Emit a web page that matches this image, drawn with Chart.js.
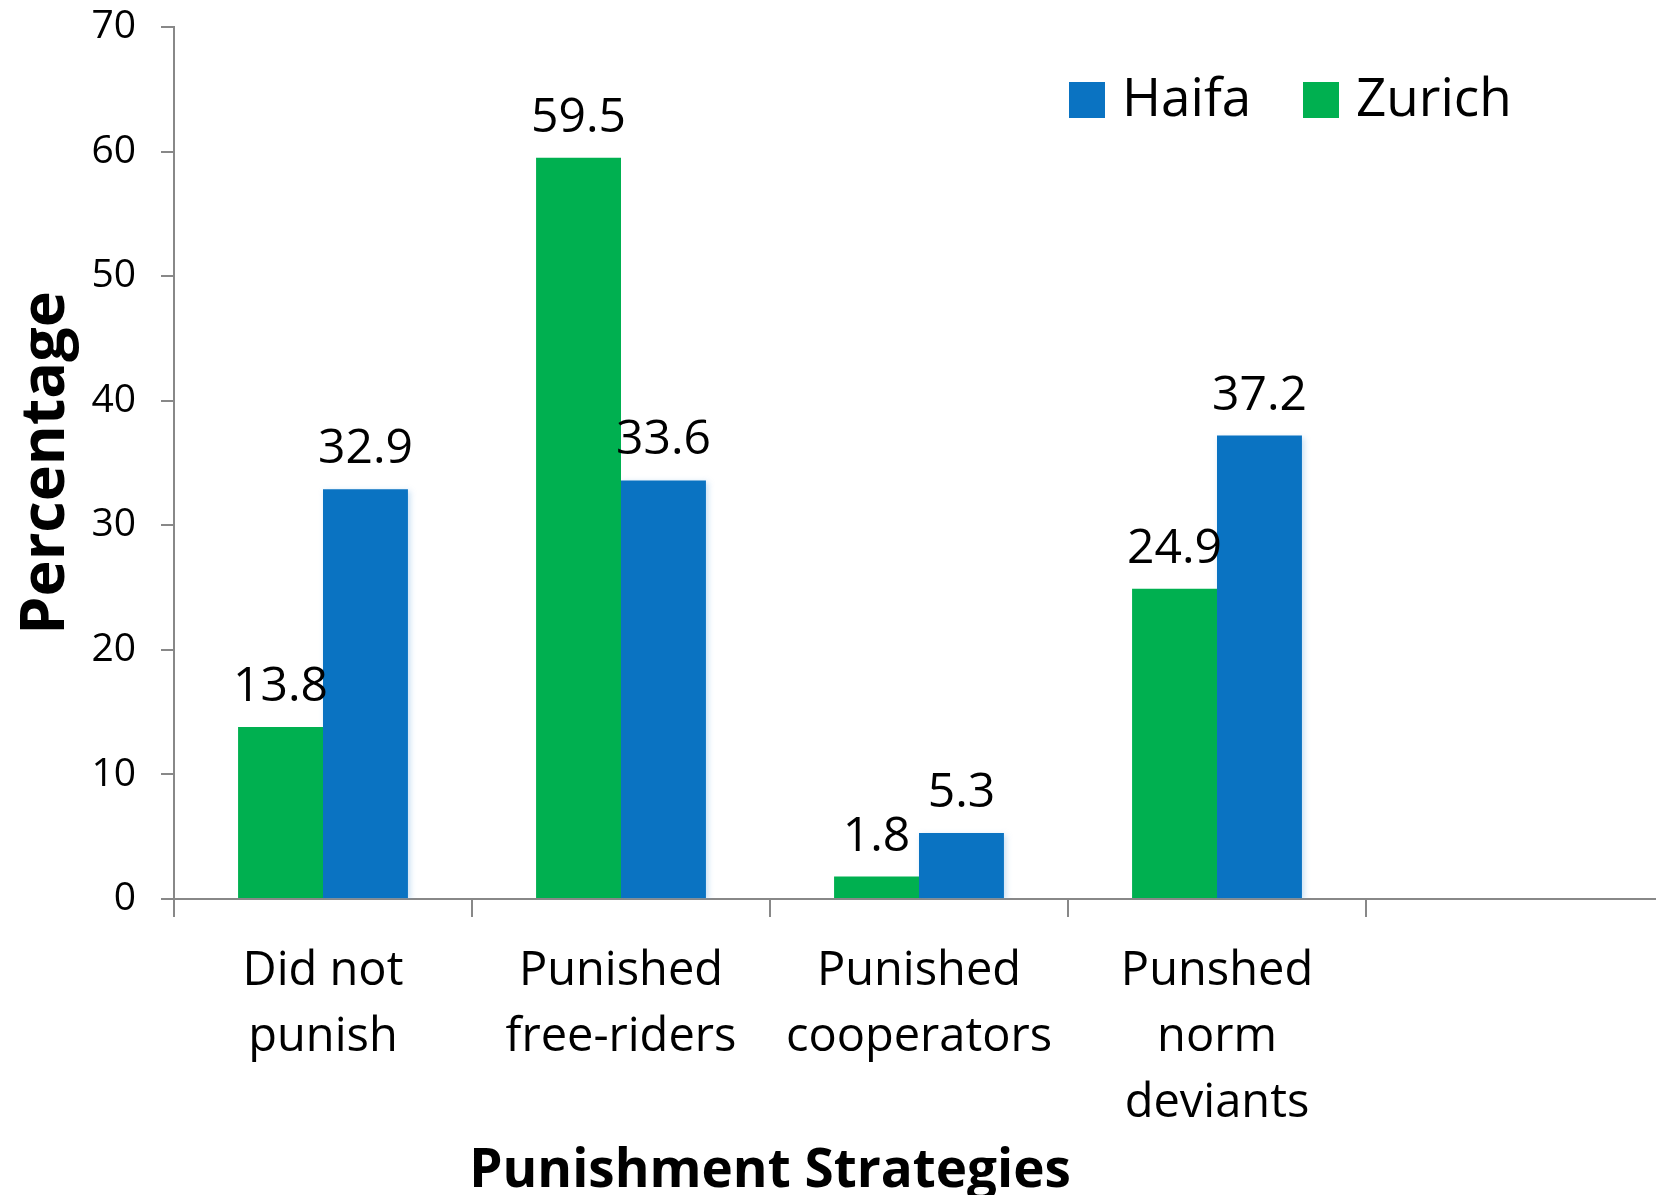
<!DOCTYPE html>
<html>
<head>
  <title>Punishment Strategies</title>
  <script src="https://cdn.jsdelivr.net/npm/chart.js"></script>
  <style>
    body {
      margin: 0;
      background: #fff;
      overflow: hidden;
    }
    #wrap {
      width: 1670px;
      height: 1195px;
      position: relative;
    }
  </style>
</head>
<body>
  <div id="wrap">
    <canvas id="chart"></canvas>
  </div>

  <script>
    // categories (last slot is empty, as in the original axis)
    const categories = [
      ['Did not', 'punish'],
      ['Punished', 'free-riders'],
      ['Punished', 'cooperators'],
      ['Punshed', 'norm', 'deviants'],
      ''
    ];
    const zurichValues = [13.8, 59.5, 1.8, 24.9, null];
    const haifaValues  = [32.9, 33.6, 5.3, 37.2, null];
    const yTicks = [0, 10, 20, 30, 40, 50, 60, 70];

    const GREEN = '#00b050';
    const BLUE  = '#0a73c2';
    const AXIS  = '#888888';
    const FONT  = '"Open Sans", "Noto Sans", sans-serif';

    // value labels above each bar
    const valueLabels = {
      id: 'valueLabels',
      afterDatasetsDraw(chart) {
        const ctx = chart.ctx;
        ctx.save();
        ctx.font = '48px ' + FONT;
        ctx.fillStyle = '#000';
        ctx.textAlign = 'center';
        ctx.textBaseline = 'alphabetic';
        chart.data.datasets.forEach((ds, i) => {
          chart.getDatasetMeta(i).data.forEach((bar, j) => {
            if (ds.data[j] == null) return;
            ctx.fillText(ds.data[j].toFixed(1), bar.x, bar.y - 26);
          });
        });
        ctx.restore();
      }
    };

    // axis titles and the legend box (Haifa first, Zurich second)
    const decorations = {
      id: 'decorations',
      afterDraw(chart) {
        const ctx = chart.ctx;
        const area = chart.chartArea;
        const x = chart.scales.x;
        ctx.save();
        ctx.fillStyle = '#000';

        // y title
        ctx.font = 'bold 61px ' + FONT;
        ctx.textAlign = 'center';
        ctx.textBaseline = 'alphabetic';
        ctx.translate(64, (area.top + area.bottom) / 2);
        ctx.rotate(-Math.PI / 2);
        ctx.fillText('Percentage', 0, 0);
        ctx.setTransform(1, 0, 0, 1, 0, 0);

        // x title, centred under the first four categories
        ctx.font = 'bold 53px ' + FONT;
        const mid = (x.getPixelForTick(1) + x.getPixelForTick(2)) / 2;
        ctx.fillText('Punishment Strategies', mid, 1187);

        // legend
        ctx.font = '53px ' + FONT;
        ctx.textAlign = 'left';
        ctx.textBaseline = 'middle';
        const items = chart.data.datasets.slice().reverse();
        const boxX = [1069, 1303];
        items.forEach((ds, k) => {
          ctx.fillStyle = ds.backgroundColor;
          ctx.fillRect(boxX[k], 82, 36, 36);
          ctx.fillStyle = '#000';
          ctx.fillText(ds.label, boxX[k] + 53, 101);
        });
        ctx.restore();
      }
    };

    // soft glow on the blue bars
    const barGlow = {
      id: 'barGlow',
      beforeDatasetDraw(chart, args) {
        if (args.index !== 1) return;
        const ctx = chart.ctx;
        ctx.save();
        ctx.shadowColor = 'rgba(90, 160, 220, 0.35)';
        ctx.shadowBlur = 6;
        ctx.shadowOffsetX = 2;
        ctx.shadowOffsetY = 2;
      },
      afterDatasetDraw(chart, args) {
        if (args.index !== 1) return;
        chart.ctx.restore();
      }
    };

    const ctx = document.getElementById('chart').getContext('2d');
    new Chart(ctx, {
      type: 'bar',
      data: {
        labels: categories,
        datasets: [
          { label: 'Zurich', data: zurichValues, backgroundColor: GREEN },
          { label: 'Haifa', data: haifaValues, backgroundColor: BLUE }
        ]
      },
      options: {
        animation: false,
        responsive: true,
        maintainAspectRatio: false,
        layout: { padding: { top: 27, right: 6, bottom: 0, left: 0 } },
        datasets: {
          bar: { categoryPercentage: 0.57, barPercentage: 1.0 }
        },
        plugins: {
          legend: { display: false },
          tooltip: { enabled: false }
        },
        scales: {
          x: {
            grid: {
              offset: true,
              drawOnChartArea: false,
              color: AXIS,
              lineWidth: 2,
              tickLength: 18
            },
            border: { color: AXIS, width: 2 },
            ticks: {
              color: '#000',
              font: { family: FONT, size: 47, lineHeight: 1.4 },
              padding: 22,
              maxRotation: 0,
              autoSkip: false
            },
            afterFit(scale) { scale.height = 1195 - 899; }
          },
          y: {
            min: 0,
            max: 70,
            afterBuildTicks(scale) {
              scale.ticks = yTicks.map(v => ({ value: v }));
            },
            grid: {
              drawOnChartArea: false,
              color: AXIS,
              lineWidth: 2,
              tickLength: 13
            },
            border: { color: AXIS, width: 2 },
            ticks: {
              color: '#000',
              font: { family: FONT, size: 39 },
              padding: 25
            },
            afterFit(scale) {
              scale.width = 174;
              scale.paddingTop = 0;
              scale.paddingBottom = 0;
            }
          }
        }
      },
      plugins: [valueLabels, decorations, barGlow]
    });
  </script>
</body>
</html>
